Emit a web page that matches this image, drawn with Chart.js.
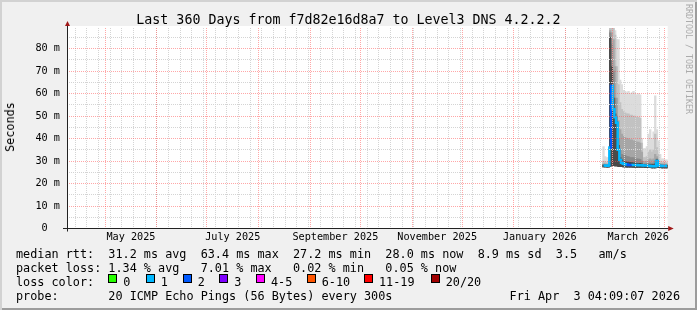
<!DOCTYPE html>
<html>
<head>
<meta charset="utf-8">
<script src="https://cdn.jsdelivr.net/npm/chart.js@4.4.1/dist/chart.umd.min.js"></script>
<style>
html,body{margin:0;padding:0;background:#f0f0f0;}
#wrap{position:relative;width:697px;height:310px;background:#f0f0f0;overflow:hidden;
  box-shadow:inset 2px 2px 0 #d2d2d2, inset -2px -2px 0 #9c9c9c;
  font-family:"DejaVu Sans Mono",monospace;color:#000;}
canvas{position:absolute;left:0;top:0;}
.t{position:absolute;white-space:pre;line-height:14px;font-size:11.8px;}
.box{position:absolute;width:7px;height:7px;border:1px solid #000;top:274px;}
#title{left:0;width:697px;top:13px;text-align:center;font-size:13.3px;}
#ylab{left:10px;top:127px;transform:translate(-50%,-50%) rotate(-90deg);}
#mark{position:absolute;left:684px;top:4px;writing-mode:vertical-rl;font-size:8.3px;color:#ababab;line-height:9px;white-space:pre;}
</style>
</head>
<body>
<div id="wrap">
  <canvas id="c" width="697" height="310"></canvas>
  <div class="t" id="title">Last 360 Days from f7d82e16d8a7 to Level3 DNS 4.2.2.2</div>
  <div class="t" id="ylab">Seconds</div>
  <div id="mark">RRDTOOL / TOBI OETIKER</div>
  <div class="t" style="left:16px;top:247px">median rtt:  31.2 ms avg  63.4 ms max  27.2 ms min  28.0 ms now  8.9 ms sd  3.5   am/s</div>
  <div class="t" style="left:16px;top:261px">packet loss: 1.34 % avg   7.01 % max   0.02 % min   0.05 % now</div>
  <div class="t" style="left:16px;top:275px">loss color:</div>
  <div id="lossLegend"></div>
  <div class="t" style="left:16px;top:289px">probe:       20 ICMP Echo Pings (56 Bytes) every 300s</div>
  <div class="t" style="right:17px;top:289px">Fri Apr  3 04:09:07 2026</div>
</div>
<script>
const DAY = 86400000;
const T0 = Date.UTC(2026, 2, 1);            // x axis counts days from 1 Mar 2026
function dayOf(y, m, d, h, mi, s){ return (Date.UTC(y, m-1, d, h||0, mi||0, s||0) - T0) / DAY; }

// 360 day window ending Fri Apr 3 04:09:07 2026
const xEnd = dayOf(2026, 4, 3, 4, 9, 7);
const xStart = xEnd - 360;

// tick labels (two-monthly, centred in their month)
const monthLabels = ["May 2025","July 2025","September 2025","November 2025","January 2026","March 2026"];
const labelMonths = [[2025,5],[2025,7],[2025,9],[2025,11],[2026,1],[2026,3]];
const yTicks = [0,10,20,30,40,50,60,70,80];
const yMinorTicks = [5,15,25,35,45,55,65,75,85];
const yMax = 89.2;

// loss legend
const lossNames  = ["0","1","2","3","4-5","6-10","11-19","20/20"];
const lossColors = ["#26ff00","#00b8ff","#0059ff","#7e00ff","#ff00ff","#ff5500","#ff0000","#a00000"];

// data, daily samples (days from 1 Mar 2026), values in ms
const dayX = [-5.3,-4.3,-3.3,-2.3,-1.3,-0.3,0.7,1.7,2.7,3.7,4.7,5.7,6.7,7.7,8.7,9.7,10.7,11.7,12.7,13.7,
  14.7,15.7,16.7,17.7,18.7,19.7,20.7,21.7,22.7,23.7,24.7,25.7,26.7,27.7,28.7,29.7,30.7,31.7,32.7];
const medianRtt = [28.0,28.0,27.9,28.0,36.0,63.5,53.0,49.5,47.0,35.0,30.5,29.2,28.8,28.6,28.5,28.3,28.3,28.2,28.3,28.2,
  28.2,28.1,28.1,28.1,28.0,28.0,28.0,27.9,27.8,27.7,27.7,27.7,30.0,28.0,27.9,27.8,27.8,27.8,27.9];
const lossCnt = [1,1,1,1,1,2,1,1,1,1,1,1,1,1,1,2,2,2,1,1,
  1,1,1,1,1,1,1,1,1,1,1,1,1,1,1,1,1,1,1];
const smokeMin = [27.4,27.4,27.3,27.3,27.5,28.0,28.0,27.8,27.8,27.5,27.5,27.5,27.4,27.4,27.3,27.3,27.3,27.3,27.2,27.2,
  27.2,27.2,27.2,27.2,27.2,27.1,27.1,27.1,27.1,27.0,27.0,27.0,27.2,27.1,27.1,27.0,27.0,27.0,27.0];
const smoke1 = [36.5,32,31.5,31.5,89,89,89,88,84,84,66,64,61.5,61,60.5,61,60,60.5,61,60,
  59.5,60,59.5,40,35.5,35.5,36.5,42,44,40,43,59,44,39,33,31,31,30.5,30.5];
const smoke2 = [30,29.5,29.5,29.5,89,89,89,86,72,64,56,53,52,51.5,51,51,50.5,50.5,50,50,
  49.5,49.5,49,38,31.5,31.5,32,34,35,34,35,42,36,33,30,29.5,29.5,29.3,29.3];
const smoke3 = [28.8,28.8,28.7,28.7,88,87,84,72,58,48,44,42,41,40.5,40,40,39.5,39.5,39,39,
  38.5,38.5,38,34,29.8,29.8,30,30.5,31,30.5,31,33,32,30,29,28.8,28.8,28.7,28.7];
const smoke4 = [28.4,28.4,28.3,28.3,87,82,70,58,50,40,35,33,32.5,32.5,32,32,31.5,31.5,31.5,31,
  31,31,30.8,30,28.8,28.8,28.9,29,29.2,29,29.2,30,31,29,28.5,28.4,28.4,28.3,28.3];
const smoke5 = [28.2,28.2,28.1,28.1,85,72,58,51,47.5,37,31.5,30.5,30,29.8,29.6,29.5,29.4,29.3,29.2,29.1,
  29,29,29,28.8,28.4,28.4,28.4,28.5,28.5,28.4,28.4,28.8,30.5,28.5,28.2,28.1,28.1,28.1,28.1];

// grid positions
const labelPos = labelMonths.map(([y,m]) => (dayOf(y,m,1) + dayOf(y,m+1,1)) / 2);
const monthGrid = [];
for(let i=0;i<12;i++){ const v = (Date.UTC(2025, 4+i, 1) - T0) / DAY; if(v>xStart && v<xEnd) monthGrid.push(v); }
const weekGrid = [];
for(let v=dayOf(2025,4,13); v<xEnd; v+=7) weekGrid.push(v);

const FONT = "DejaVu Sans Mono";
const RED = "rgba(255,80,80,0.5)";
const GREY = "#d4d4d4";

function band(vals, color, order){
  return {
    type: "bar", order, backgroundColor: color, borderWidth: 0, grouped: false,
    barPercentage: 1, categoryPercentage: 1,
    data: dayX.map((x,i)=>({ x, y:[smokeMin[i], vals[i]] }))
  };
}

const datasets = [
  {
    type: "line", order: 0, stepped: "middle", pointRadius: 0, borderWidth: 2.5,
    borderColor: lossColors[1],
    segment: { borderColor: ctx => lossColors[lossCnt[ctx.p1DataIndex]] },
    data: dayX.map((x,i)=>({ x, y: medianRtt[i] }))
  },
  band(smoke5, "#4a4a4a", 1),
  band(smoke4, "#8a8a8a", 2),
  band(smoke3, "#a6a6a6", 3),
  band(smoke2, "#c2c2c2", 4),
  band(smoke1, "#dcdcdc", 5)
];

const frame = {
  id: "frame",
  beforeDraw(c){
    const a = c.chartArea, ctx = c.ctx;
    ctx.save();
    ctx.fillStyle = "#fff";
    ctx.fillRect(a.left, a.top - 2, a.right - a.left, a.bottom - a.top + 2);
    ctx.restore();
  },
  afterDraw(c){
    const a = c.chartArea, ctx = c.ctx;
    const xb = Math.round(a.bottom) + 0.5 - 1, xl = Math.round(a.left) + 0.5;
    ctx.save();
    ctx.lineWidth = 1;
    ctx.strokeStyle = "#222";
    ctx.beginPath();
    ctx.moveTo(a.left - 4, xb); ctx.lineTo(a.right + 1, xb);
    ctx.moveTo(xl, a.bottom + 3); ctx.lineTo(xl, a.top - 2);
    ctx.stroke();
    ctx.fillStyle = "#a01818";
    ctx.beginPath();
    ctx.moveTo(a.right + 0.5, xb - 2.5); ctx.lineTo(a.right + 6, xb); ctx.lineTo(a.right + 0.5, xb + 2.5);
    ctx.closePath(); ctx.fill();
    ctx.beginPath();
    ctx.moveTo(xl - 2.5, a.top - 2); ctx.lineTo(xl, a.top - 7); ctx.lineTo(xl + 2.5, a.top - 2);
    ctx.closePath(); ctx.fill();
    ctx.restore();
  }
};

const gridOnly = (ticks, color, horiz) => ({
  type: "linear", position: horiz ? "left" : "bottom",
  min: horiz ? 0 : xStart, max: horiz ? yMax : xEnd, offset: false,
  afterBuildTicks: s => { s.ticks = ticks.map(v=>({value:v})); },
  afterFit: s => { if(horiz) s.width = 0; else s.height = 0; },
  ticks: { display: false },
  grid: { color, drawTicks: false, offset: false, z: 1 },
  border: { display: false, dash: [1,1] }
});

new Chart(document.getElementById("c"), {
  type: "bar",
  data: { datasets },
  plugins: [frame],
  options: {
    responsive: false, animation: false,
    layout: { padding: { left: 0, top: 28, right: 29.3, bottom: 61.5 } },
    plugins: { legend: { display: false }, tooltip: { enabled: false } },
    scales: {
      x: {
        type: "linear", position: "bottom", min: xStart, max: xEnd, offset: false,
        afterBuildTicks: s => { s.ticks = labelPos.map(v=>({value:v})); },
        afterFit: s => { s.height = 20; },
        grid: { display: false, drawTicks: false, offset: false },
        border: { display: false },
        ticks: { autoSkip: false, maxRotation: 0, padding: 3, color: "#000",
          font: { family: FONT, size: 10.2 }, callback: (v,i) => monthLabels[i] }
      },
      xWeek: gridOnly(weekGrid, GREY, false),
      xMonth: gridOnly(monthGrid, RED, false),
      y: {
        type: "linear", position: "left", min: 0, max: yMax,
        afterBuildTicks: s => { s.ticks = yTicks.map(v=>({value:v})); },
        afterFit: s => { s.width = 67; },
        grid: { color: RED, drawTicks: false, z: 1 },
        border: { display: false, dash: [1,1] },
        ticks: { padding: 7, color: "#000", font: { family: FONT, size: 10.2 },
          callback: v => v === 0 ? "0  " : v + " m" }
      },
      yMinor: gridOnly(yMinorTicks, GREY, true)
    }
  }
});

// loss colour legend
const boxX = [108.3,145.7,182.7,219.3,256,306.7,364,430.7];
const lg = document.getElementById("lossLegend");
lossNames.forEach((n,i)=>{
  const b = document.createElement("div");
  b.className = "box"; b.style.left = boxX[i] + "px"; b.style.background = lossColors[i];
  lg.appendChild(b);
  const t = document.createElement("div");
  t.className = "t"; t.style.left = (boxX[i] + 15) + "px"; t.style.top = "275px"; t.textContent = n;
  lg.appendChild(t);
});
</script>
</body>
</html>
